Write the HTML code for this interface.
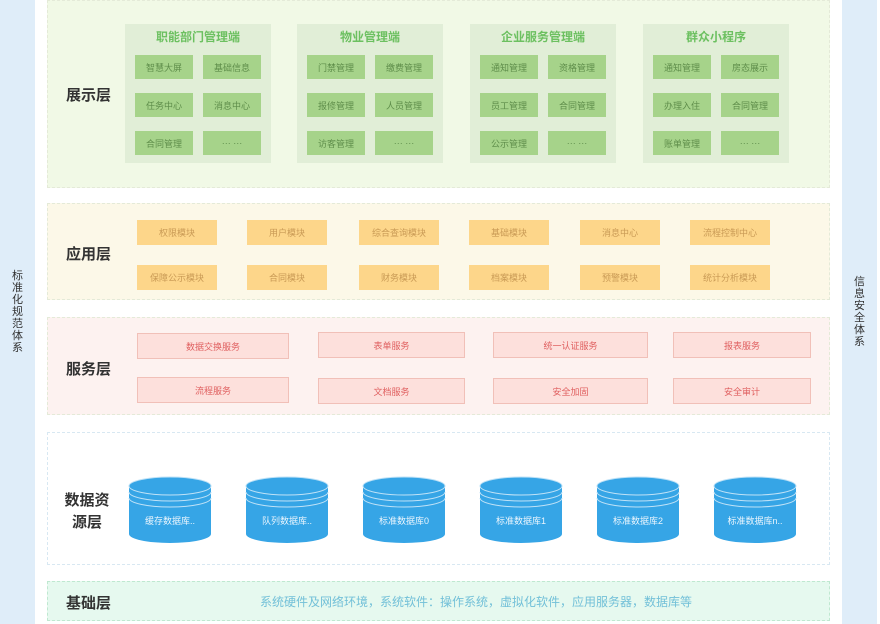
<!DOCTYPE html>
<html><head><meta charset="utf-8"><style>
*{margin:0;padding:0;box-sizing:border-box}
body{width:880px;height:624px;background:#fff;position:relative;overflow:hidden;font-family:"Liberation Sans","Noto Sans CJK SC",sans-serif}
div{position:absolute}
.c{display:flex;align-items:center;justify-content:center;text-align:center}
.side{background:#dfedf9;top:0;height:624px;width:35px;font-size:11px;color:#333;line-height:12px}
.lbl{font-size:15px;font-weight:bold;color:#333;white-space:nowrap}
.panel{left:47px;width:783px;border:1px dashed #e4ead8}
.grp{background:#e1eed7;width:146px;height:139px;top:24px}
.gt{width:100%;top:4px;font-size:12px;color:#6cc060;font-weight:bold;text-align:center}
.g{background:#a6d38a;width:58px;height:24px;font-size:9px;color:#5e8d4a}
.o{background:#fdd68a;width:80px;height:25px;font-size:9px;color:#c99a55}
.p{background:#fde0dc;border:1px solid #f1c0b8;height:26px;font-size:9px;color:#e06060}
</style></head><body>
<div class="side c" style="left:0">标<br>准<br>化<br>规<br>范<br>体<br>系</div>
<div class="side c" style="left:842px">信<br>息<br>安<br>全<br>体<br>系</div>

<div class="panel" style="top:0;height:188px;background:#f1f9e6"></div>
<div class="lbl" style="left:66px;top:84px">展示层</div>

<div class="grp" style="left:125px"><div class="gt">职能部门管理端</div>
<div class="g c" style="left:10px;top:31px">智慧大屏</div><div class="g c" style="left:78px;top:31px">基础信息</div>
<div class="g c" style="left:10px;top:69px">任务中心</div><div class="g c" style="left:78px;top:69px">消息中心</div>
<div class="g c" style="left:10px;top:107px">合同管理</div><div class="g c" style="left:78px;top:107px">··· ···</div></div>

<div class="grp" style="left:297px"><div class="gt">物业管理端</div>
<div class="g c" style="left:10px;top:31px">门禁管理</div><div class="g c" style="left:78px;top:31px">缴费管理</div>
<div class="g c" style="left:10px;top:69px">报修管理</div><div class="g c" style="left:78px;top:69px">人员管理</div>
<div class="g c" style="left:10px;top:107px">访客管理</div><div class="g c" style="left:78px;top:107px">··· ···</div></div>

<div class="grp" style="left:470px"><div class="gt">企业服务管理端</div>
<div class="g c" style="left:10px;top:31px">通知管理</div><div class="g c" style="left:78px;top:31px">资格管理</div>
<div class="g c" style="left:10px;top:69px">员工管理</div><div class="g c" style="left:78px;top:69px">合同管理</div>
<div class="g c" style="left:10px;top:107px">公示管理</div><div class="g c" style="left:78px;top:107px">··· ···</div></div>

<div class="grp" style="left:643px"><div class="gt">群众小程序</div>
<div class="g c" style="left:10px;top:31px">通知管理</div><div class="g c" style="left:78px;top:31px">房态展示</div>
<div class="g c" style="left:10px;top:69px">办理入住</div><div class="g c" style="left:78px;top:69px">合同管理</div>
<div class="g c" style="left:10px;top:107px">账单管理</div><div class="g c" style="left:78px;top:107px">··· ···</div></div>

<div class="panel" style="top:203px;height:97px;background:#fcf8e8"></div>
<div class="lbl" style="left:66px;top:243px">应用层</div>
<div class="o c" style="left:137px;top:220px">权限模块</div><div class="o c" style="left:247px;top:220px">用户模块</div><div class="o c" style="left:359px;top:220px">综合查询模块</div><div class="o c" style="left:469px;top:220px">基础模块</div><div class="o c" style="left:580px;top:220px">消息中心</div><div class="o c" style="left:690px;top:220px">流程控制中心</div>
<div class="o c" style="left:137px;top:265px">保障公示模块</div><div class="o c" style="left:247px;top:265px">合同模块</div><div class="o c" style="left:359px;top:265px">财务模块</div><div class="o c" style="left:469px;top:265px">档案模块</div><div class="o c" style="left:580px;top:265px">预警模块</div><div class="o c" style="left:690px;top:265px">统计分析模块</div>

<div class="panel" style="top:317px;height:98px;background:#fdf2f0"></div>
<div class="lbl" style="left:66px;top:358px">服务层</div>
<div class="p c" style="left:137px;top:333px;width:152px">数据交换服务</div><div class="p c" style="left:318px;top:332px;width:147px">表单服务</div><div class="p c" style="left:493px;top:332px;width:155px">统一认证服务</div><div class="p c" style="left:673px;top:332px;width:138px">报表服务</div>
<div class="p c" style="left:137px;top:377px;width:152px">流程服务</div><div class="p c" style="left:318px;top:378px;width:147px">文档服务</div><div class="p c" style="left:493px;top:378px;width:155px">安全加固</div><div class="p c" style="left:673px;top:378px;width:138px">安全审计</div>

<div class="panel" style="top:432px;height:133px;background:#fff;border-color:#d8e8f2"></div>
<div class="lbl" style="left:62px;top:490px;line-height:22px;width:50px;text-align:center">数据资<br>源层</div>
<svg style="position:absolute;left:0;top:0" width="880" height="624">
<defs><g id="cyl">
<path d="M-41,-24 L-41,24 A41,9 0 0 0 41,24 L41,-24 Z" fill="#36a5e6"/>
<ellipse cx="0" cy="-24" rx="41" ry="9" fill="#36a5e6"/>
<path d="M-41,-18 A41,9 0 0 0 41,-18 M-41,-12 A41,9 0 0 0 41,-12" fill="none" stroke="#bfe2f7" stroke-width="1"/>
<ellipse cx="0" cy="-24" rx="41" ry="9" fill="none" stroke="#bfe2f7" stroke-width="1"/>
</g></defs>
<use href="#cyl" x="170" y="510"/><use href="#cyl" x="287" y="510"/><use href="#cyl" x="404" y="510"/><use href="#cyl" x="521" y="510"/><use href="#cyl" x="638" y="510"/><use href="#cyl" x="755" y="510"/>
<g font-family="Liberation Sans, Noto Sans CJK SC, sans-serif" font-size="9" fill="#eaf5fd" text-anchor="middle">
<text x="170" y="524">缓存数据库..</text><text x="287" y="524">队列数据库..</text><text x="404" y="524">标准数据库0</text><text x="521" y="524">标准数据库1</text><text x="638" y="524">标准数据库2</text><text x="755" y="524">标准数据库n..</text>
</g>
</svg>

<div class="panel" style="top:581px;height:40px;background:#e6f9ef;border-color:#bfe8d0"></div>
<div class="lbl" style="left:66px;top:592px">基础层</div>
<div style="left:260px;top:593px;font-size:12px;color:#72c0d8;white-space:nowrap">系统硬件及网络环境，系统软件：操作系统，虚拟化软件，应用服务器，数据库等</div>
</body></html>
